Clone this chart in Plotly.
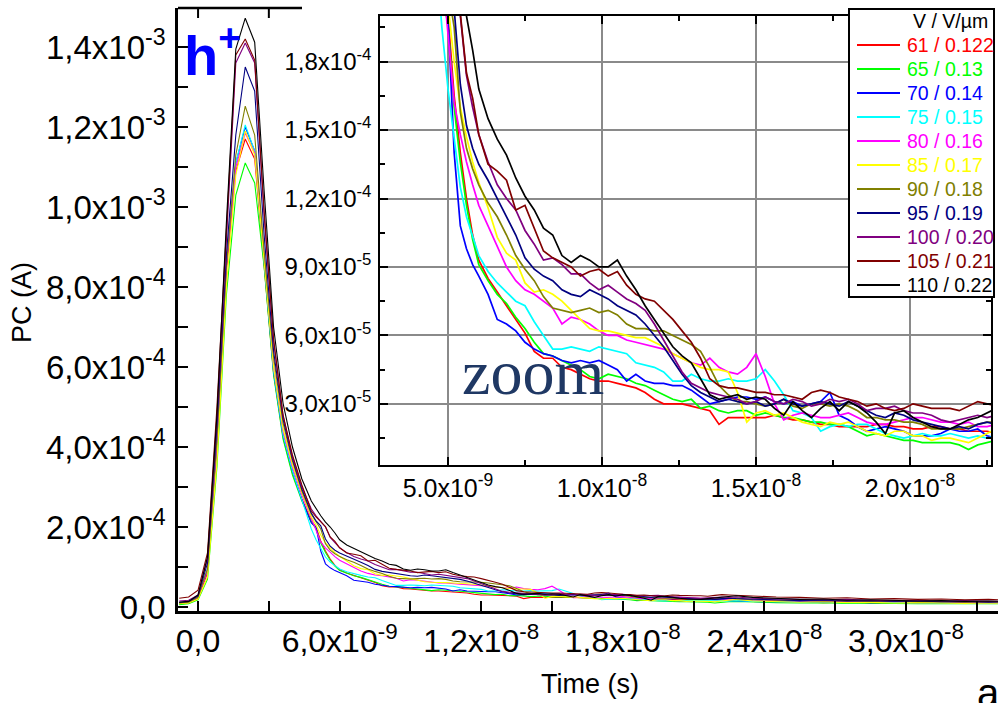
import plotly.graph_objects as go

# ---------------- data (time in ns, current in µA) ----------------
t_ns = [-0.8, -0.4, 0.0, 0.4, 0.8, 1.2, 1.6, 2.0, 2.4, 2.8, 3.2, 3.6, 4.0, 4.4, 4.8,
        5.0, 5.2, 5.4, 5.6, 5.8, 6.0,
        6.3, 6.6, 6.9, 7.2, 7.5, 7.8, 8.1, 8.4, 8.7, 9.0,
        9.3, 9.6, 9.9, 10.2, 10.5, 10.8, 11.1, 11.4, 11.7, 12.0,
        12.3, 12.6, 12.9, 13.2, 13.5, 13.8, 14.1, 14.4, 14.7, 15.0,
        15.3, 15.6, 15.9, 16.2, 16.5, 16.8, 17.1, 17.4, 17.7, 18.0,
        18.3, 18.6, 18.9, 19.2, 19.5, 19.8, 20.1, 20.4, 20.7, 21.0,
        21.3, 21.6, 21.9, 22.2, 22.5, 22.8,
        23.5, 24.5, 25.5, 26.5, 27.5, 28.5, 29.5, 30.5, 31.5, 32.5, 33.5, 34.5]

pc_61 = [8, 10, 22, 85, 400, 840, 1090, 1170, 1120, 860, 585, 425, 335, 270, 215,
         200, 165, 140, 120, 104, 93,
         85, 79, 73, 67, 61, 53, 50, 50, 46, 45,
         43, 41, 40, 40, 39, 38, 37, 35, 32, 30,
         30, 30, 29, 28, 27, 21, 24, 24, 24, 24,
         24, 25, 24, 23, 23, 22, 21, 21, 20, 20,
         20, 20, 21, 21, 20, 20, 19, 19, 20, 20,
         19, 19, 18, 18, 18, 17,
         14, 12, 13, 11, 12, 10, 11, 9, 10, 9, 10, 8]

pc_65 = [6, 8, 18, 70, 350, 780, 1030, 1110, 1060, 850, 580, 420, 330, 265, 212,
         196, 160, 136, 117, 102, 91,
         84, 78, 74, 68, 63, 57, 52, 51, 49, 47,
         45, 42, 41, 43, 42, 41, 39, 38, 36, 34,
         32, 31, 32, 28, 29, 27, 26, 27, 27, 25,
         26, 25, 24, 24, 23, 22, 22, 21, 21, 20,
         18, 16, 17, 16, 15, 14, 14, 13, 13, 13,
         13, 12, 10, 12, 13, 14,
         12, 11, 10, 11, 9, 10, 9, 8, 9, 8, 7, 8]

pc_70 = [10, 12, 25, 92, 415, 860, 1110, 1200, 1140, 870, 590, 430, 340, 268, 210,
         200, 140, 108, 98, 91, 86,
         78, 67, 65, 62, 57, 54, 52, 51, 49, 48,
         49, 48, 49, 47, 45, 40, 43, 40, 39, 39,
         38, 38, 36, 33, 30, 31, 32, 33, 33, 32,
         33, 31, 30, 31, 29, 30, 31, 35, 25, 23,
         20, 18, 19, 20, 19, 18, 16, 16, 16, 17,
         19, 18, 18, 19, 16, 15,
         14, 13, 14, 12, 13, 11, 12, 10, 11, 10, 9, 10]

pc_75 = [10, 12, 26, 95, 420, 860, 1110, 1205, 1140, 870, 590, 430, 340, 268, 195,
         168, 146, 125, 112, 103, 95,
         88, 83, 79, 75, 73, 66, 60, 54, 54, 55,
         54, 53, 55, 54, 53, 52, 48, 47, 46, 44,
         40, 40, 43, 41, 40, 40, 41, 40, 40, 41,
         45, 40, 34, 27, 26, 24, 18, 20, 21, 20,
         21, 21, 19, 17, 16, 15, 16, 17, 16, 16,
         17, 16, 15, 16, 15, 16,
         14, 13, 12, 13, 11, 12, 11, 10, 11, 9, 10, 9]

pc_80 = [10, 12, 24, 90, 410, 850, 1100, 1185, 1135, 880, 600, 440, 350, 280, 222,
         192, 162, 148, 136, 126, 117,
         108, 99, 90, 84, 80, 78, 75, 72, 65, 68,
         67, 65, 62, 60, 60, 58, 57, 56, 55, 54,
         52, 50, 48, 47, 50, 46, 44, 43, 46, 52,
         42, 30, 23, 25, 26, 25, 24, 24, 25, 26,
         24, 22, 21, 21, 22, 23, 24, 24, 23, 22,
         22, 21, 22, 20, 20, 21,
         18, 16, 15, 14, 15, 13, 14, 12, 13, 11, 12, 11]

pc_85 = [8, 10, 20, 75, 360, 800, 1080, 1190, 1130, 870, 600, 445, 355, 285, 225,
         205, 180, 160, 147, 136, 127,
         116, 103, 96, 93, 83, 79, 80, 78, 75, 71,
         67, 63, 62, 62, 61, 60, 59, 59, 57, 55,
         52, 50, 48, 46, 45, 45, 44, 35, 22, 26,
         27, 25, 26, 24, 22, 21, 20, 22, 21, 22,
         20, 18, 17, 16, 18, 18, 16, 16, 14, 15,
         15, 14, 13, 15, 17, 19,
         15, 13, 12, 13, 11, 12, 10, 11, 10, 9, 10, 9]

pc_90 = [10, 12, 25, 95, 420, 850, 1130, 1252, 1180, 890, 625, 460, 365, 290, 232,
         212, 195, 158, 142, 133, 126,
         118, 112, 104, 95, 89, 84, 77, 72, 71, 70,
         71, 72, 70, 71, 69, 65, 63, 63, 62, 62,
         60, 58, 56, 53, 46, 38, 34, 31, 31, 30,
         29, 30, 32, 29, 28, 30, 30, 29, 30, 29,
         27, 24, 24, 23, 23, 22, 22, 21, 19, 19,
         19, 19, 20, 21, 22, 22,
         18, 17, 16, 15, 16, 14, 15, 13, 14, 12, 13, 12]

pc_95 = [12, 14, 28, 110, 450, 880, 1180, 1350, 1290, 930, 640, 470, 370, 295, 235,
         215, 203, 170, 152, 142, 135,
         128, 120, 112, 104, 94, 89, 86, 84, 80, 78,
         77, 80, 78, 76, 73, 71, 69, 65, 60, 55,
         49, 43, 38, 35, 33, 31, 32, 31, 30, 31,
         29, 30, 32, 30, 29, 30, 31, 30, 29, 31,
         29, 27, 25, 24, 26, 25, 23, 22, 21, 20,
         19, 20, 19, 21, 22, 21,
         19, 18, 16, 17, 15, 16, 14, 15, 13, 14, 12, 13]

pc_100 = [15, 17, 30, 120, 470, 930, 1360, 1410, 1360, 980, 665, 480, 375, 300, 245,
          228, 214, 200, 174, 160, 148,
          136, 126, 120, 115, 106, 100, 93, 94, 91, 87,
          87, 83, 80, 82, 79, 76, 74, 71, 65, 58,
          51, 44, 39, 37, 35, 34, 33, 32, 30, 31,
          33, 31, 30, 32, 31, 29, 30, 32, 31, 32,
          30, 27, 28, 28, 29, 27, 26, 26, 25, 23,
          22, 23, 24, 25, 24, 25,
          22, 20, 19, 18, 19, 17, 16, 17, 15, 16, 14, 15]

pc_105 = [22, 25, 42, 135, 500, 940, 1380, 1420, 1367, 990, 670, 480, 380, 305, 240,
          225, 212, 201, 175, 164, 148,
          135, 132, 128, 115, 117, 107, 97, 94, 92, 90,
          86, 88, 89, 86, 88, 82, 78, 76, 75, 71,
          67, 62, 57, 50, 41, 38, 37, 37, 36, 35,
          35, 34, 34, 33, 32, 35, 36, 35, 33, 32,
          31, 29, 30, 28, 27, 28, 30, 29, 28, 28,
          28, 27, 29, 31, 30, 29,
          27, 25, 24, 22, 23, 20, 21, 19, 20, 18, 19, 17]

pc_110 = [12, 14, 30, 125, 480, 960, 1395, 1472, 1412, 1040, 700, 510, 400, 320, 265,
          245, 228, 212, 200, 185, 168,
          155, 146, 139, 129, 121, 115, 107, 104, 95, 92,
          95, 93, 90, 90, 93, 86, 80, 73, 67, 61,
          55, 51, 48, 41, 34, 32, 33, 34, 32, 33,
          32, 28, 25, 31, 27, 24, 28, 31, 27, 31,
          29, 26, 22, 17, 26, 27, 24, 22, 20, 19,
          19, 21, 23, 24, 26, 28,
          24, 21, 19, 20, 17, 18, 16, 15, 16, 14, 15, 13]

series = [pc_61, pc_65, pc_70, pc_75, pc_80, pc_85, pc_90, pc_95, pc_100, pc_105, pc_110]
labels = ["61 / 0.122", "65 / 0.13", "70 / 0.14", "75 / 0.15", "80 / 0.16", "85 / 0.17",
          "90 / 0.18", "95 / 0.19", "100 / 0.20", "105 / 0.21", "110 / 0.22"]
legend_title = "V / V/µm"
colors = ["#ff0000", "#00ff00", "#0000ff", "#00ffff", "#ff00ff", "#ffff00",
          "#808000", "#000080", "#800080", "#800000", "#000000"]

# ticks
main_x_ticks = [0, 6e-9, 1.2e-8, 1.8e-8, 2.4e-8, 3.0e-8]
main_x_text = ["0,0", "6,0x10<sup>-9</sup>", "1,2x10<sup>-8</sup>", "1,8x10<sup>-8</sup>",
               "2,4x10<sup>-8</sup>", "3,0x10<sup>-8</sup>"]
main_x_minor = [3e-9, 9e-9, 1.5e-8, 2.1e-8, 2.7e-8, 3.3e-8]
main_y_ticks = [0, 2e-4, 4e-4, 6e-4, 8e-4, 1.0e-3, 1.2e-3, 1.4e-3]
main_y_text = ["0,0", "2,0x10<sup>-4</sup>", "4,0x10<sup>-4</sup>", "6,0x10<sup>-4</sup>",
               "8,0x10<sup>-4</sup>", "1,0x10<sup>-3</sup>", "1,2x10<sup>-3</sup>", "1,4x10<sup>-3</sup>"]
main_y_minor = [1e-4, 3e-4, 5e-4, 7e-4, 9e-4, 1.1e-3, 1.3e-3]
inset_x_ticks = [5e-9, 1.0e-8, 1.5e-8, 2.0e-8]
inset_x_text = ["5.0x10<sup>-9</sup>", "1.0x10<sup>-8</sup>", "1.5x10<sup>-8</sup>", "2.0x10<sup>-8</sup>"]
inset_x_minor = [7.5e-9, 1.25e-8, 1.75e-8, 2.25e-8]
inset_y_ticks = [3e-5, 6e-5, 9e-5, 1.2e-4, 1.5e-4, 1.8e-4]
inset_y_text = ["3,0x10<sup>-5</sup>", "6,0x10<sup>-5</sup>", "9,0x10<sup>-5</sup>",
                "1,2x10<sup>-4</sup>", "1,5x10<sup>-4</sup>", "1,8x10<sup>-4</sup>"]
inset_y_minor = [1.5e-5, 4.5e-5, 7.5e-5, 1.05e-4, 1.35e-4, 1.65e-4, 1.95e-4]

# ---------------- figure ----------------
W, H = 998, 703


def px(x):
    return x / W


def py(y):
    return 1 - y / H


FONT = "Liberation Sans, Arial, sans-serif"
t_s = [t * 1e-9 for t in t_ns]

fig = go.Figure()
for vals, name, col in zip(series, labels, colors):
    amps = [v * 1e-6 for v in vals]
    fig.add_trace(go.Scatter(x=t_s, y=amps, mode="lines", xaxis="x", yaxis="y",
                             line=dict(color=col, width=1.1), showlegend=False,
                             name=name, hoverinfo="skip"))
for vals, name, col in zip(series, labels, colors):
    amps = [v * 1e-6 for v in vals]
    fig.add_trace(go.Scatter(x=t_s, y=amps, mode="lines", xaxis="x2", yaxis="y2",
                             line=dict(color=col, width=1.7), showlegend=False,
                             name=name, hoverinfo="skip"))

fig.update_layout(
    width=W, height=H, margin=dict(l=0, r=0, t=0, b=0),
    paper_bgcolor="white", plot_bgcolor="white", hovermode=False, showlegend=False,
    font=dict(family=FONT, color="black"),
    xaxis=dict(domain=[px(178), 1.0], range=[-0.85e-9, 33.9e-9], anchor="y",
               tickmode="array", tickvals=main_x_ticks, ticktext=main_x_text,
               ticks="inside", ticklen=10, tickwidth=2, tickcolor="black",
               minor=dict(tickvals=main_x_minor, ticks="inside", ticklen=10,
                          tickwidth=2, tickcolor="black", showgrid=False),
               showline=True, linecolor="black", linewidth=2.5,
               showgrid=False, zeroline=False, automargin=False,
               tickfont=dict(family=FONT, size=32, color="black")),
    yaxis=dict(domain=[py(611), py(8)], range=[-1.0e-5, 1.4975e-3], anchor="x",
               tickmode="array", tickvals=main_y_ticks, ticktext=main_y_text,
               ticks="inside", ticklen=10, tickwidth=2, tickcolor="black",
               minor=dict(tickvals=main_y_minor, ticks="inside", ticklen=10,
                          tickwidth=2, tickcolor="black", showgrid=False),
               showline=True, linecolor="black", linewidth=2.5,
               showgrid=False, zeroline=False, automargin=False,
               ticklabelstandoff=3,
               tickfont=dict(family=FONT, size=33, color="black")),
    xaxis2=dict(domain=[px(380), px(991)], range=[2.792e-9, 22.63e-9], anchor="y2",
                tickmode="array", tickvals=inset_x_ticks, ticktext=inset_x_text,
                ticks="inside", ticklen=8, tickwidth=1.5, tickcolor="black",
                minor=dict(tickvals=inset_x_minor, ticks="inside", ticklen=5,
                           tickwidth=1.5, tickcolor="black", showgrid=False),
                showline=True, linecolor="black", linewidth=1.5, mirror="ticks",
                showgrid=True, gridcolor="#8a8a8a", gridwidth=1.8,
                zeroline=False, automargin=False,
                tickfont=dict(family=FONT, size=25, color="black")),
    yaxis2=dict(domain=[py(465), py(16)], range=[3.2e-6, 2.0e-4], anchor="x2",
                tickmode="array", tickvals=inset_y_ticks, ticktext=inset_y_text,
                ticks="inside", ticklen=8, tickwidth=1.5, tickcolor="black",
                minor=dict(tickvals=inset_y_minor, ticks="inside", ticklen=5,
                           tickwidth=1.5, tickcolor="black", showgrid=False),
                showline=True, linecolor="black", linewidth=1.5, mirror="ticks",
                showgrid=True, gridcolor="#8a8a8a", gridwidth=1.8,
                zeroline=False, automargin=False, ticklabelstandoff=2,
                tickfont=dict(family=FONT, size=24, color="black")),
)

# main frame top segment with its two ticks (the inset hides the rest)
fig.add_shape(type="line", xref="paper", yref="paper", x0=px(178), x1=px(302),
              y0=py(8), y1=py(8), line=dict(color="black", width=2.5))
for tv in [main_x_ticks[0], main_x_minor[0]]:
    fig.add_shape(type="line", xref="x", yref="paper", x0=tv, x1=tv,
                  y0=py(8), y1=py(18), line=dict(color="black", width=2))

# legend box drawn inside the inset (top right)
fig.add_shape(type="rect", xref="paper", yref="paper", x0=px(849), x1=px(994),
              y0=py(297), y1=py(9), line=dict(color="black", width=2),
              fillcolor="white", layer="above")
fig.add_annotation(text=legend_title, x=px(990), y=py(21), xref="paper", yref="paper",
                   xanchor="right", yanchor="middle", showarrow=False,
                   font=dict(family=FONT, size=19.5, color="black"))
for i, (name, col) in enumerate(zip(labels, colors)):
    yc = 45 + 24.0 * i
    fig.add_shape(type="line", xref="paper", yref="paper", x0=px(857), x1=px(900),
                  y0=py(yc), y1=py(yc), line=dict(color=col, width=2), layer="above")
    fig.add_annotation(text=name, x=px(905), y=py(yc), xref="paper", yref="paper",
                       xanchor="left", yanchor="middle", showarrow=False,
                       font=dict(family=FONT, size=19.5, color=col))

fig.add_annotation(text="<b>h<sup>+</sup></b>", x=px(182), y=py(52), xref="paper", yref="paper",
                   xanchor="left", yanchor="middle", showarrow=False,
                   font=dict(family=FONT, size=56, color="#0000ff"))
fig.add_annotation(text="zoom", x=px(533), y=py(372), xref="paper", yref="paper",
                   xanchor="center", yanchor="middle", showarrow=False,
                   font=dict(family="Liberation Serif, Times New Roman, serif", size=64, color="#1f3864"))
fig.add_annotation(text="PC (A)", x=px(22), y=py(303), xref="paper", yref="paper",
                   xanchor="center", yanchor="middle", showarrow=False, textangle=-90,
                   font=dict(family=FONT, size=27, color="black"))
fig.add_annotation(text="Time (s)", x=px(590), y=py(684), xref="paper", yref="paper",
                   xanchor="center", yanchor="middle", showarrow=False,
                   font=dict(family=FONT, size=27, color="black"))
fig.add_annotation(text="a", x=px(988), y=py(693), xref="paper", yref="paper",
                   xanchor="center", yanchor="middle", showarrow=False,
                   font=dict(family=FONT, size=40, color="black"))

fig.write_html("out.html")
